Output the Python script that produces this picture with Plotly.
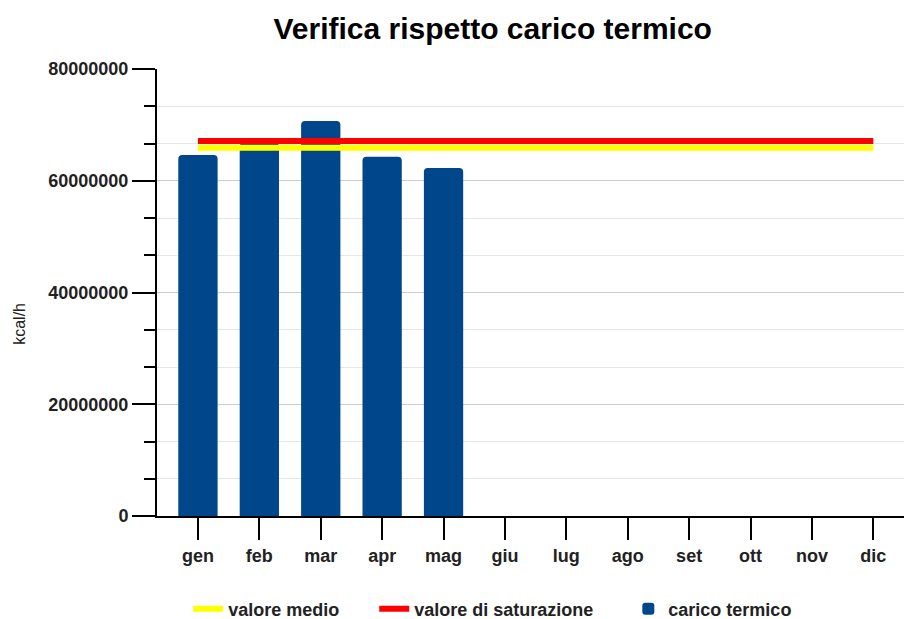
import plotly.graph_objects as go

months = ["gen", "feb", "mar", "apr", "mag", "giu", "lug", "ago", "set", "ott", "nov", "dic"]
carico_termico = [64.6e6, 66.8e6, 70.7e6, 64.3e6, 62.3e6, None, None, None, None, None, None, None]
valore_medio = [65.9e6] * 12
valore_saturazione = [67.1e6] * 12
y_tickvals = [0, 20000000, 40000000, 60000000, 80000000]

FONT = "Liberation Sans, Arial, sans-serif"
PAD = "\u00a0" * 6

fig = go.Figure()
fig.add_trace(go.Bar(
    x=months, y=carico_termico, name="<b>carico termico</b>", legendrank=3,
    marker=dict(color="#00468a", cornerradius=4, line=dict(width=0)),
    width=0.64,
))
fig.add_trace(go.Scatter(
    x=months, y=valore_medio, name="<b>valore medio</b>" + PAD, mode="lines", legendrank=1,
    line=dict(color="#ffff00", width=6),
))
fig.add_trace(go.Scatter(
    x=months, y=valore_saturazione, name="<b>valore di saturazione</b>" + PAD, mode="lines",
    legendrank=2, line=dict(color="#ff0000", width=6),
))

fig.update_layout(
    width=904, height=619,
    margin=dict(l=157, r=0, t=69, b=103, autoexpand=False),
    plot_bgcolor="white", paper_bgcolor="white",
    font=dict(family=FONT, color="#222"),
    title=dict(text="<b>Verifica rispetto carico termico</b>", x=0.545, xanchor="center",
               xref="container", y=1 - 28 / 619, yref="container", yanchor="middle",
               font=dict(size=30, color="#000"), automargin=False),
    showlegend=True,
    legend=dict(orientation="h", x=0.545, xref="container", xanchor="center",
                y=10 / 619, yref="container", yanchor="middle",
                font=dict(size=18, color="#222", family=FONT),
                traceorder="normal"),
)

fig.update_xaxes(
    type="category", range=[-0.667, 11.5], automargin=False,
    showline=True, linecolor="#000", linewidth=2,
    ticks="outside", ticklen=22, tickwidth=2, tickcolor="#000",
    showgrid=False,
    tickfont=dict(size=18, color="#222", family=FONT),
    tickprefix="<b>", ticksuffix="</b>",
)
fig.update_yaxes(
    range=[0, 80000000], automargin=False,
    tickvals=y_tickvals, ticktext=[f"<b>{v}</b>" for v in y_tickvals],
    showline=True, linecolor="#000", linewidth=2,
    ticks="outside", ticklen=23, tickwidth=2, tickcolor="#000",
    showgrid=True, gridcolor="#cccccc", gridwidth=1,
    zeroline=False,
    tickfont=dict(size=18, color="#222", family=FONT),
    minor=dict(dtick=20000000 / 3, tick0=0, ticklen=11, tickwidth=2, tickcolor="#000",
               ticks="outside", showgrid=True, gridcolor="#e6e6e6", gridwidth=1),
)
fig.add_annotation(
    text="kcal/h", textangle=-90, xref="paper", yref="paper",
    x=(20 - 157) / 747, y=0.43, xanchor="center", yanchor="middle",
    showarrow=False, font=dict(size=16, color="#222", family=FONT),
)

fig.write_html("out.html", config={"displayModeBar": False},
               post_script="document.body.style.margin='0';")
